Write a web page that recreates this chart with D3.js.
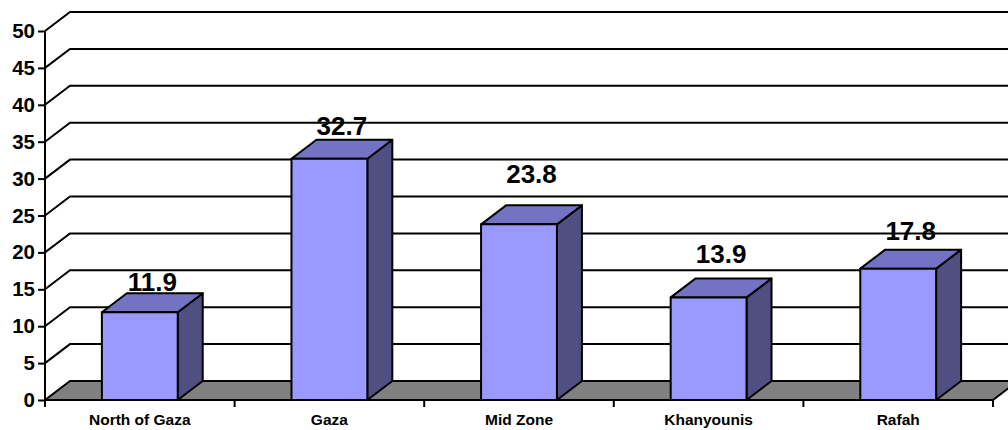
<!DOCTYPE html>
<html>
<head>
<meta charset="utf-8">
<script src="https://cdn.jsdelivr.net/npm/d3@7"></script>
<style>
  html, body { margin: 0; padding: 0; background: #fff; }
  svg { display: block; font-family: "Liberation Sans", Arial, sans-serif; }
</style>
</head>
<body>
<svg id="chart" width="1008" height="430"></svg>
<script>
// Data
const categories = ["North of Gaza", "Gaza", "Mid Zone", "Khanyounis", "Rafah"];
const values = [11.9, 32.7, 23.8, 13.9, 17.8];
const yTicks = [0, 5, 10, 15, 20, 25, 30, 35, 40, 45, 50];

const svg = d3.select("#chart");

// Plot frame (front plane) and the 3D depth offset
const plotLeft = 45, plotRight = 993, plotBottom = 400, plotTop = 31;
const DX = 25, DY = -19;

const x = d3.scaleBand().domain(categories).range([plotLeft, plotRight]);
const y = d3.scaleLinear().domain([0, 50]).range([plotBottom, plotTop]);

const barW = x.bandwidth() * 0.4;

const colFront = "#9999ff", colTop = "#7373c4", colSide = "#4f4f82";
const colFloor = "#808080";

// Back-wall gridlines with their diagonal on the side wall
const grid = svg.append("g").attr("fill", "none").attr("stroke", "#000").attr("stroke-width", 2);
yTicks.filter(t => t > 0).forEach(t => {
  const yy = y(t);
  grid.append("path")
    .attr("d", `M${plotLeft},${yy}L${plotLeft + DX},${yy + DY}L${plotRight + DX + 10},${yy + DY}`);
});

// Floor
svg.append("path")
  .attr("d", `M${plotLeft},${plotBottom}L${plotRight},${plotBottom}L${plotRight + DX},${plotBottom + DY}L${plotLeft + DX},${plotBottom + DY}Z`)
  .attr("fill", colFloor)
  .attr("stroke", "#000")
  .attr("stroke-width", 2)
  .attr("stroke-linejoin", "round");

// Bars as 3D boxes
const bars = svg.append("g").attr("stroke", "#000").attr("stroke-width", 2).attr("stroke-linejoin", "round");
categories.forEach((c, i) => {
  const x0 = x(c) + (x.bandwidth() - barW) / 2;
  const x1 = x0 + barW;
  const yT = y(values[i]);
  const y0 = y(0);
  // side face
  bars.append("path")
    .attr("d", `M${x1},${y0}L${x1 + DX},${y0 + DY}L${x1 + DX},${yT + DY}L${x1},${yT}Z`)
    .attr("fill", colSide);
  // top face
  bars.append("path")
    .attr("d", `M${x0},${yT}L${x0 + DX},${yT + DY}L${x1 + DX},${yT + DY}L${x1},${yT}Z`)
    .attr("fill", colTop);
  // front face
  bars.append("rect")
    .attr("x", x0).attr("y", yT)
    .attr("width", barW).attr("height", y0 - yT)
    .attr("fill", colFront);
});

// Value labels above each bar (slight per-label lift as placed in the chart)
const labelLift = [2, 5, 22, 15, 10];
svg.append("g")
  .selectAll("text")
  .data(categories)
  .join("text")
  .attr("x", c => x(c) + x.bandwidth() / 2 + DX / 2)
  .attr("y", (c, i) => y(values[i]) + DY - labelLift[i])
  .attr("text-anchor", "middle")
  .attr("font-size", 26)
  .attr("font-weight", "bold")
  .attr("fill", "#000")
  .text((c, i) => values[i].toFixed(1));

// Y axis
const yAxis = svg.append("g")
  .attr("transform", `translate(${plotLeft},0)`)
  .call(d3.axisLeft(y).tickValues(yTicks).tickSize(7).tickPadding(3));
yAxis.selectAll("path, line").attr("stroke", "#000").attr("stroke-width", 2);
yAxis.select(".domain").attr("d", `M0,${plotTop}V${plotBottom}`);
yAxis.selectAll("text")
  .attr("font-size", 20.5)
  .attr("font-weight", "bold")
  .attr("fill", "#000")
  .attr("font-family", "Liberation Sans, Arial, sans-serif");

// X axis: line, ticks at band boundaries, category labels at band centers
const xAxis = svg.append("g").attr("stroke", "#000").attr("stroke-width", 2);
xAxis.append("line")
  .attr("x1", plotLeft).attr("x2", plotRight)
  .attr("y1", plotBottom).attr("y2", plotBottom);
const boundaries = categories.map(c => x(c)).concat([x.range()[1]]);
xAxis.selectAll("line.tick")
  .data(boundaries)
  .join("line")
  .attr("class", "tick")
  .attr("x1", d => d).attr("x2", d => d)
  .attr("y1", plotBottom).attr("y2", plotBottom + 7);

svg.append("g")
  .selectAll("text")
  .data(categories)
  .join("text")
  .attr("x", c => x(c) + x.bandwidth() / 2)
  .attr("y", 425)
  .attr("text-anchor", "middle")
  .attr("font-size", 15.5)
  .attr("font-weight", "bold")
  .attr("fill", "#000")
  .text(c => c);
</script>
</body>
</html>
